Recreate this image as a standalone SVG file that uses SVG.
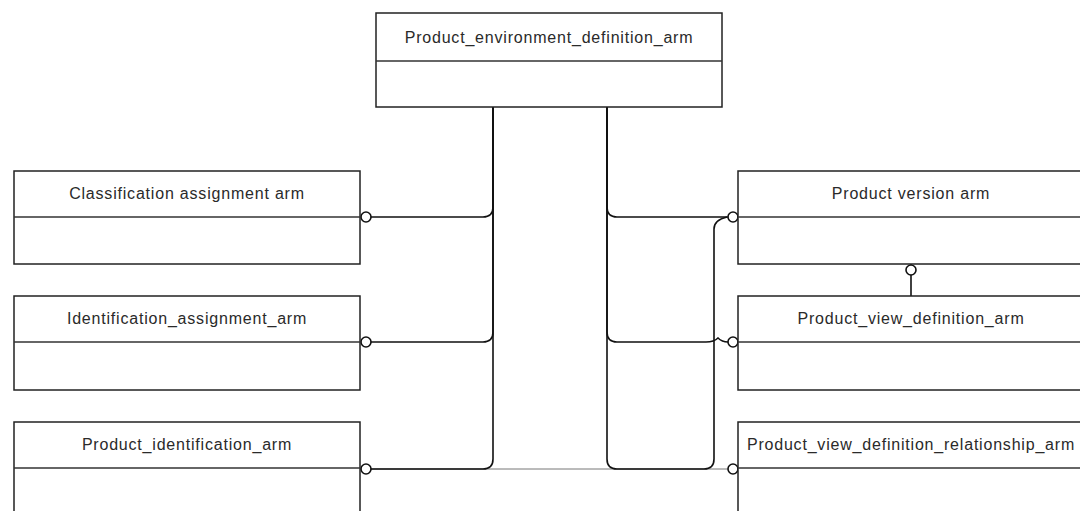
<svg xmlns="http://www.w3.org/2000/svg" width="1080" height="511" viewBox="0 0 1080 511">
<style>
.box{fill:#fff;stroke:#222;stroke-width:1.5}
.div{stroke:#333;stroke-width:1.5}
.lbl{font-family:"Liberation Sans",Arial,sans-serif;font-size:16px;letter-spacing:0.8px;fill:#2a2a2a;text-anchor:middle}
.con{fill:none;stroke:#111;stroke-width:1.6}
.thin{fill:none;stroke:#777;stroke-width:1}
.end{fill:#fff;stroke:#111;stroke-width:1.6}
</style>
<rect width="1080" height="511" fill="#fff"/>
<g id="connectors">
<path class="thin" d="M360,469 H738"/>
<path class="con" d="M493,107 V459 Q493,469 483,469 H371"/>
<path class="con" d="M493,107 V207 Q493,217 483,217 H371"/>
<path class="con" d="M493,107 V332 Q493,342 483,342 H371"/>
<path class="con" d="M607,107 V459 Q607,469 617,469 H704 Q714,469 714,459 V229 Q714,220 727,217"/>
<path class="con" d="M607,107 V207 Q607,217 617,217 H728"/>
<path class="con" d="M607,107 V332 Q607,342 617,342 H706 Q714,342 718,338 Q722,342 728,342"/>
<path class="con" d="M911,264 V296"/>
<circle class="end" cx="366" cy="217" r="5"/>
<circle class="end" cx="366" cy="342" r="5"/>
<circle class="end" cx="366" cy="469" r="5"/>
<circle class="end" cx="733" cy="217" r="5"/>
<circle class="end" cx="733" cy="342" r="5"/>
<circle class="end" cx="733" cy="469" r="5"/>
<circle class="end" cx="911" cy="270" r="5"/>
</g>
<g id="n_env">
<rect class="box" x="376" y="13" width="346" height="94"/>
<line class="div" x1="376" y1="61" x2="722" y2="61"/>
<text class="lbl" x="549" y="43">Product_environment_definition_arm</text>
</g>
<g id="n_class">
<rect class="box" x="14" y="171" width="346" height="93"/>
<line class="div" x1="14" y1="217" x2="360" y2="217"/>
<text class="lbl" x="187" y="199">Classification assignment arm</text>
</g>
<g id="n_ident">
<rect class="box" x="14" y="296" width="346" height="94"/>
<line class="div" x1="14" y1="342" x2="360" y2="342"/>
<text class="lbl" x="187" y="324">Identification_assignment_arm</text>
</g>
<g id="n_pident">
<rect class="box" x="14" y="422" width="346" height="100"/>
<line class="div" x1="14" y1="468" x2="360" y2="468"/>
<text class="lbl" x="187" y="450">Product_identification_arm</text>
</g>
<g id="n_pver">
<rect class="box" x="738" y="171" width="346" height="93"/>
<line class="div" x1="738" y1="217" x2="1084" y2="217"/>
<text class="lbl" x="911" y="199">Product version arm</text>
</g>
<g id="n_pvd">
<rect class="box" x="738" y="296" width="346" height="94"/>
<line class="div" x1="738" y1="342" x2="1084" y2="342"/>
<text class="lbl" x="911" y="324">Product_view_definition_arm</text>
</g>
<g id="n_pvdr">
<rect class="box" x="738" y="422" width="346" height="100"/>
<line class="div" x1="738" y1="468" x2="1084" y2="468"/>
<text class="lbl" x="911" y="450">Product_view_definition_relationship_arm</text>
</g>
</svg>
